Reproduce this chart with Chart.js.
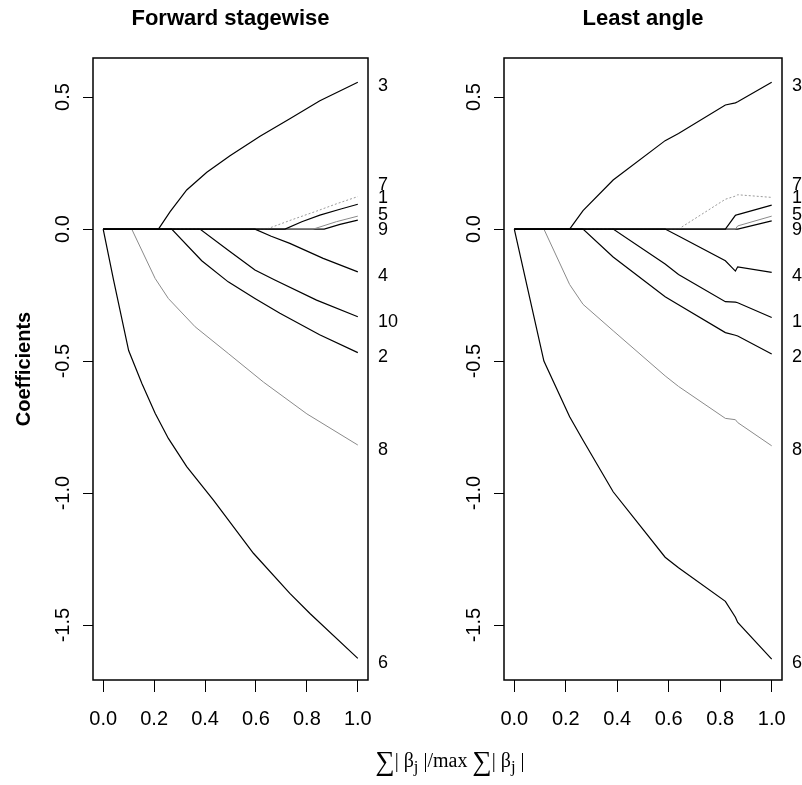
<!DOCTYPE html>
<html>
<head>
<meta charset="utf-8">
<script src="https://cdn.jsdelivr.net/npm/chart.js@4.4.1/dist/chart.umd.min.js"></script>
<style>
  body { margin: 0; background: #fff; }
  #wrap { position: relative; width: 802px; height: 785px; overflow: hidden; }
  canvas { position: absolute; top: 0; }
  #xlab { position: absolute; left: 250px; width: 400px; top: 746px; text-align: center;
          font-family: "Liberation Serif", "Times New Roman", serif; font-size: 20px; color: #000; }
  #xlab .sig { font-size: 27px; vertical-align: -3px; }
</style>
</head>
<body>
<div id="wrap">
  <canvas id="stagewise" width="401" height="785" style="left:0"></canvas>
  <canvas id="lar" width="401" height="785" style="left:401px"></canvas>
  <div id="xlab"><span class="sig">∑</span>| β<sub>j</sub> |/max <span class="sig">∑</span>| β<sub>j</sub> |</div>
</div>
<script>
var varNames = ["1", "2", "3", "4", "5", "6", "7", "8", "9", "10"];
var xTicks = [0, 0.2, 0.4, 0.6, 0.8, 1.0];
var yTicks = [-1.5, -1.0, -0.5, 0.0, 0.5];
// where the variable numbers sit on the right edge (coefficient units)
var labelSpots = [0.116, -0.486, 0.54, -0.178, 0.053, -1.645, 0.165, -0.837, -0.004, -0.351];

// forward stagewise paths, [x, coefficient]
var fs1 = [[0, 0], [0.714, 0], [0.78, 0.028], [0.851, 0.053], [0.93, 0.075], [1.0, 0.094]];
var fs2 = [[0, 0], [0.269, 0], [0.387, -0.12], [0.491, -0.2], [0.596, -0.263], [0.694, -0.319], [0.85, -0.4], [1.0, -0.468]];
var fs3 = [[0, 0], [0.217, 0], [0.263, 0.066], [0.328, 0.148], [0.407, 0.215], [0.498, 0.278], [0.616, 0.352], [0.733, 0.418], [0.851, 0.486], [1.0, 0.556]];
var fs4 = [[0, 0], [0.596, 0], [0.66, -0.027], [0.733, -0.054], [0.864, -0.111], [1.0, -0.162]];
var fs5 = [[0, 0], [0.825, 0], [0.916, 0.028], [1.0, 0.049]];
var fs6 = [[0, 0], [0.04, -0.19], [0.1, -0.46], [0.152, -0.585], [0.204, -0.698], [0.256, -0.793], [0.328, -0.9], [0.433, -1.027], [0.59, -1.228], [0.733, -1.38], [0.812, -1.456], [1.0, -1.626]];
var fs7 = [[0, 0], [0.642, 0], [0.74, 0.035], [0.838, 0.068], [0.92, 0.097], [1.0, 0.123]];
var fs8 = [[0, 0], [0.112, 0], [0.204, -0.187], [0.256, -0.263], [0.361, -0.37], [0.491, -0.471], [0.63, -0.58], [0.8, -0.7], [1.0, -0.818]];
var fs9 = [[0, 0], [0.868, 0], [0.93, 0.018], [1.0, 0.034]];
var fs10 = [[0, 0], [0.38, 0], [0.491, -0.08], [0.596, -0.155], [0.674, -0.193], [0.838, -0.269], [1.0, -0.332]];

// least angle: coefficients at each step
var larSteps = [0, 0.115, 0.215, 0.267, 0.384, 0.586, 0.638, 0.82, 0.859, 0.868, 1.0];
var lar1 = [0, 0, 0, 0, 0, 0, 0, 0, 0.052, 0.055, 0.091];
var lar2 = [0, 0, 0, 0, -0.106, -0.256, -0.287, -0.392, -0.402, -0.405, -0.473];
var lar3 = [0, 0, 0, 0.07, 0.186, 0.335, 0.362, 0.47, 0.478, 0.482, 0.556];
var lar4 = [0, 0, 0, 0, 0, 0, -0.026, -0.12, -0.159, -0.143, -0.164];
var lar5 = [0, 0, 0, 0, 0, 0, 0, 0, 0, 0.012, 0.049];
var lar6 = [0, -0.5, -0.711, -0.8, -0.995, -1.243, -1.283, -1.41, -1.47, -1.49, -1.629];
var lar7 = [0, 0, 0, 0, 0, 0, 0, 0.113, 0.125, 0.13, 0.12];
var lar8 = [0, 0, -0.21, -0.285, -0.385, -0.556, -0.596, -0.717, -0.722, -0.733, -0.821];
var lar9 = [0, 0, 0, 0, 0, 0, 0, 0, 0, 0, 0.031];
var lar10 = [0, 0, 0, 0, 0, -0.132, -0.172, -0.275, -0.277, -0.279, -0.335];

var fsPaths = [fs1, fs2, fs3, fs4, fs5, fs6, fs7, fs8, fs9, fs10];
var larPaths = [lar1, lar2, lar3, lar4, lar5, lar6, lar7, lar8, lar9, lar10];

var lineColors = ["#000", "#000", "#000", "#000", "#8a8a8a", "#000", "#9a9a9a", "#8a8a8a", "#000", "#000"];
var sans = "'Liberation Sans', Arial, sans-serif";

function makeSets(paths, toPoints) {
  return paths.map(function (p, i) {
    return {
      label: varNames[i],
      data: toPoints(p),
      borderColor: lineColors[i],
      borderWidth: lineColors[i] == "#000" ? 1.2 : 1,
      borderDash: i == 6 ? [2, 2] : [],
      pointRadius: 0,
      tension: 0,
      fill: false
    };
  });
}

var frame = {
  id: "frame",
  afterDraw: function (chart) {
    var a = chart.chartArea, ctx = chart.ctx;
    ctx.save();
    ctx.strokeStyle = "#000";
    ctx.lineWidth = 1.5;
    ctx.strokeRect(a.left, a.top, a.right - a.left, a.bottom - a.top);
    ctx.restore();
  }
};

function panel(id, title, datasets, leftW, rightW, showYTitle) {
  new Chart(document.getElementById(id), {
    type: "line",
    data: { datasets: datasets },
    plugins: [frame],
    options: {
      responsive: false,
      animation: false,
      devicePixelRatio: 1,
      layout: { padding: 0 },
      plugins: {
        legend: { display: false },
        tooltip: { enabled: false },
        title: {
          display: true,
          text: title,
          fullSize: false,
          color: "#000",
          font: { family: sans, size: 22, weight: "bold" },
          padding: { top: 6, bottom: 25.6 }
        }
      },
      scales: {
        x: {
          type: "linear",
          min: -0.04,
          max: 1.04,
          afterBuildTicks: function (s) { s.ticks = xTicks.map(function (v) { return { value: v }; }); },
          afterFit: function (s) { s.height = 105; },
          ticks: {
            autoSkip: false, maxRotation: 0, padding: 15, color: "#000",
            font: { family: sans, size: 20 },
            callback: function (v) { return v.toFixed(1); }
          },
          grid: { drawOnChartArea: false, tickLength: 12, color: "#000" },
          border: { display: false }
        },
        y: {
          type: "linear",
          position: "left",
          min: -1.708,
          max: 0.648,
          afterBuildTicks: function (s) { s.ticks = yTicks.map(function (v) { return { value: v }; }); },
          afterFit: function (s) { s.width = leftW; },
          ticks: {
            autoSkip: false, minRotation: 90, maxRotation: 90, crossAlign: "center", padding: 2,
            color: "#000", font: { family: sans, size: 20 },
            callback: function (v) { return v.toFixed(1); }
          },
          grid: { drawOnChartArea: false, tickLength: 10, color: "#000" },
          border: { display: false },
          title: {
            display: showYTitle, text: "Coefficients", color: "#000",
            font: { family: sans, size: 20, weight: "bold" },
            padding: { top: 12, bottom: 0 }
          }
        },
        yr: {
          type: "linear",
          position: "right",
          min: -1.708,
          max: 0.648,
          afterBuildTicks: function (s) { s.ticks = labelSpots.map(function (v) { return { value: v }; }); },
          afterFit: function (s) { s.width = rightW; },
          ticks: {
            autoSkip: false, padding: 10, color: "#000",
            font: { family: sans, size: 18 },
            callback: function (v) { return varNames[labelSpots.indexOf(v)]; }
          },
          grid: { display: false, drawTicks: false },
          border: { display: false }
        }
      }
    }
  });
}

panel("stagewise", "Forward stagewise",
  makeSets(fsPaths, function (p) { return p.map(function (q) { return { x: q[0], y: q[1] }; }); }),
  93, 33, true);

panel("lar", "Least angle",
  makeSets(larPaths, function (p) { return larSteps.map(function (x, k) { return { x: x, y: p[k] }; }); }),
  103, 20, false);
</script>
</body>
</html>
